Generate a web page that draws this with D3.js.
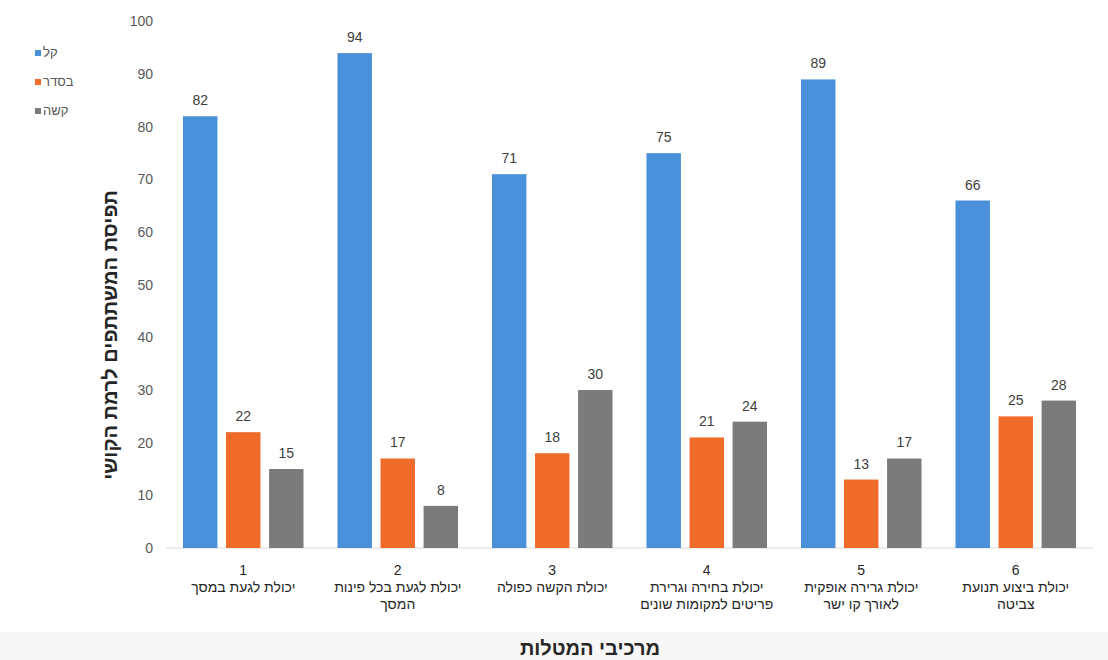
<!DOCTYPE html>
<html lang="he">
<head>
  <meta charset="UTF-8">
  <title>תפיסת המשתתפים לרמת הקושי</title>
  <script src="https://d3js.org/d3.v7.min.js"></script>
  <style>
    body {
      margin: 0;
      font-family: "Liberation Sans", Arial, sans-serif;
      background: #fff;
    }
    svg text { font-family: "Liberation Sans", Arial, sans-serif; }
  </style>
</head>
<body>
  <div id="chart"></div>

  <script>
    // נתונים
    const categories = ["1", "2", "3", "4", "5", "6"];
    const categoryLabels = [
      ["יכולת לגעת במסך"],
      ["יכולת לגעת בכל פינות", "המסך"],
      ["יכולת הקשה כפולה"],
      ["יכולת בחירה וגרירת", "פריטים למקומות שונים"],
      ["יכולת גרירה אופקית", "לאורך קו ישר"],
      ["יכולת ביצוע תנועת", "צביטה"]
    ];
    const seriesNames = ["קל", "בסדר", "קשה"];
    const easyValues = [82, 94, 71, 75, 89, 66];
    const okValues = [22, 17, 18, 21, 13, 25];
    const hardValues = [15, 8, 30, 24, 17, 28];
    const yTicks = [0, 10, 20, 30, 40, 50, 60, 70, 80, 90, 100];

    const colors = ["#4a8fd9", "#ef6b2a", "#7b7b7b"];
    const seriesValues = [easyValues, okValues, hardValues];

    const width = 1108, height = 660;
    const plot = {left: 166, right: 1093, top: 21.5, bottom: 548};

    const svg = d3.select("#chart")
                  .append("svg")
                  .attr("width", width)
                  .attr("height", height);

    // פס אפור תחתון
    svg.append("rect")
       .attr("x", 0).attr("y", 632)
       .attr("width", width).attr("height", height - 632)
       .attr("fill", "#f7f7f7");

    const x0 = d3.scaleBand()
                 .domain(categories)
                 .range([plot.left, plot.right])
                 .paddingInner(0.22)
                 .paddingOuter(0.11);

    const x1 = d3.scaleBand()
                 .domain(seriesNames)
                 .range([0, x0.bandwidth()])
                 .paddingInner(0.2)
                 .paddingOuter(0);

    const y = d3.scaleLinear()
                .domain([0, 100])
                .range([plot.bottom, plot.top]);

    // ציר Y
    const yAxis = d3.axisLeft(y).tickValues(yTicks).tickSize(0).tickPadding(0);
    const gy = svg.append("g")
                  .attr("transform", `translate(${plot.left - 13},0)`)
                  .call(yAxis);
    gy.select(".domain").remove();
    gy.selectAll("text")
      .attr("fill", "#595959")
      .style("font-size", "14px");

    // קו בסיס
    svg.append("line")
       .attr("x1", plot.left).attr("x2", plot.right)
       .attr("y1", y(0)).attr("y2", y(0))
       .attr("stroke", "#d9d9d9")
       .attr("stroke-width", 1);

    // עמודות
    const rows = categories.map((c, i) => ({
      cat: c,
      values: seriesNames.map((s, j) => ({series: s, value: seriesValues[j][i], color: colors[j]}))
    }));

    const groups = svg.selectAll(".group")
                      .data(rows)
                      .enter()
                      .append("g")
                      .attr("class", "group")
                      .attr("transform", d => `translate(${x0(d.cat)},0)`);

    groups.selectAll("rect")
          .data(d => d.values)
          .enter()
          .append("rect")
          .attr("x", d => x1(d.series))
          .attr("y", d => y(d.value))
          .attr("width", x1.bandwidth())
          .attr("height", d => y(0) - y(d.value))
          .attr("fill", d => d.color);

    groups.selectAll(".label")
          .data(d => d.values)
          .enter()
          .append("text")
          .attr("class", "label")
          .attr("x", d => x1(d.series) + x1.bandwidth() / 2)
          .attr("y", d => y(d.value) - 11)
          .attr("text-anchor", "middle")
          .attr("fill", "#404040")
          .style("font-size", "14px")
          .text(d => d.value);

    // תוויות קטגוריה
    const catLabels = svg.selectAll(".cat")
                         .data(categories)
                         .enter()
                         .append("text")
                         .attr("class", "cat")
                         .attr("text-anchor", "middle")
                         .attr("fill", "#262626")
                         .style("font-size", "14px");

    catLabels.each(function(c, i) {
      const t = d3.select(this);
      const cx = x0(c) + x0.bandwidth() / 2;
      t.append("tspan").attr("x", cx).attr("y", 575).text(c);
      categoryLabels[i].forEach((line, k) => {
        t.append("tspan").attr("x", cx).attr("y", 592 + k * 17).text(line);
      });
    });

    // כותרות צירים
    svg.append("text")
       .attr("x", 590)
       .attr("y", 655)
       .attr("text-anchor", "middle")
       .attr("fill", "#262626")
       .style("font-size", "20px")
       .style("font-weight", "bold")
       .text("מרכיבי המטלות");

    svg.append("text")
       .attr("transform", "translate(117,335) rotate(-90)")
       .attr("text-anchor", "middle")
       .attr("fill", "#262626")
       .style("font-size", "20px")
       .style("font-weight", "bold")
       .text("תפיסת המשתתפים לרמת הקושי");

    // מקרא
    const legend = svg.selectAll(".legend")
                      .data(seriesNames)
                      .enter()
                      .append("g")
                      .attr("class", "legend")
                      .attr("transform", (d, i) => `translate(35,${53 + i * 29})`);

    legend.append("rect")
          .attr("x", 0).attr("y", -3)
          .attr("width", 6).attr("height", 6)
          .attr("fill", (d, i) => colors[i]);

    legend.append("text")
          .attr("x", 8)
          .attr("y", 4)
          .attr("fill", "#595959")
          .style("font-size", "13px")
          .text(d => d);
  </script>
</body>
</html>
